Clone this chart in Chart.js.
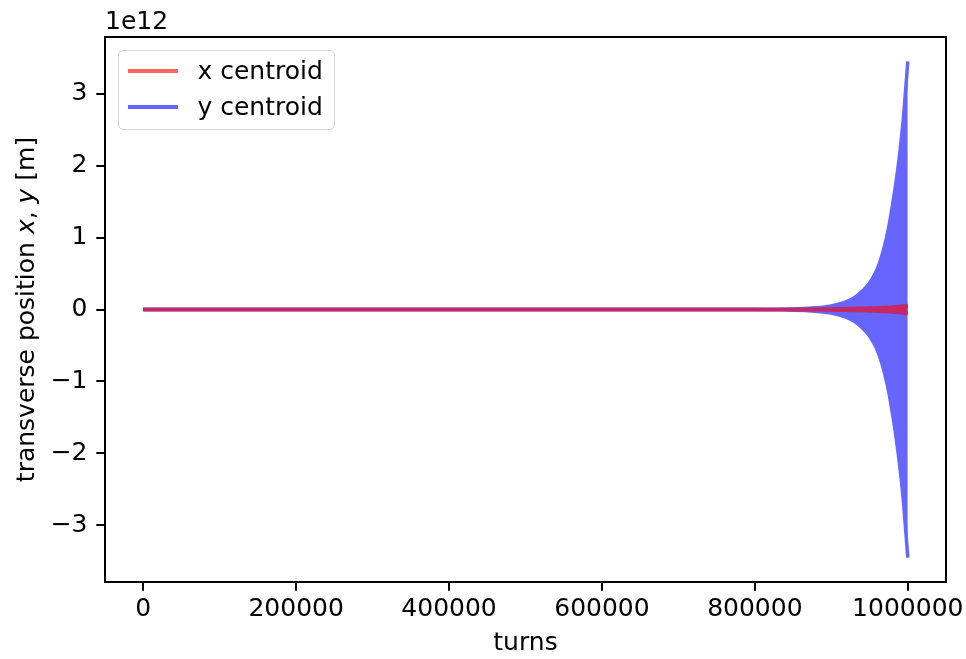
<!DOCTYPE html>
<html>
<head>
<meta charset="utf-8">
<script src="https://cdn.jsdelivr.net/npm/chart.js@4.4.0/dist/chart.umd.min.js"></script>
<style>
  html, body { margin: 0; padding: 0; background: #fff; }
  #wrap { position: relative; width: 966px; height: 659px; }
  canvas { display: block; }
  .lg-box { position: absolute; box-sizing: border-box; border: 1.5px solid #d6d6d6; border-radius: 5px; background: rgba(255,255,255,0.8); }
  .lg-handle { position: absolute; height: 3.5px; }
  .lg-text { position: absolute; font-family: "DejaVu Sans"; font-size: 25px; line-height: 25px; color: #000; white-space: nowrap; }
</style>
</head>
<body>
<div id="wrap">
  <canvas id="c" width="966" height="659"></canvas>
</div>
<script>
// ---- data ----
const turns = [0, 200000, 400000, 600000, 800000, 840000, 870000, 900000, 920000, 930000, 940000, 945000, 950000, 955000, 960000, 965000, 970000, 975000, 980000, 985000, 990000, 995000, 1000000];
// envelope of the x centroid oscillation (m)
const xCentroidUpper = [0, 0, 0, 0, 0, 0.002e12, 0.004e12, 0.008e12, 0.012e12, 0.014e12, 0.017e12, 0.0185e12, 0.020e12, 0.022e12, 0.024e12, 0.0265e12, 0.029e12, 0.032e12, 0.035e12, 0.039e12, 0.044e12, 0.050e12, 0.057e12];
const xCentroidLower = [0, 0, 0, 0, 0, -0.002e12, -0.004e12, -0.008e12, -0.012e12, -0.014e12, -0.017e12, -0.0185e12, -0.020e12, -0.022e12, -0.024e12, -0.0265e12, -0.029e12, -0.032e12, -0.035e12, -0.039e12, -0.044e12, -0.050e12, -0.057e12];
// envelope of the y centroid oscillation (m)
const yCentroidUpper = [0, 0, 0, 0, 0, 0.005e12, 0.017e12, 0.05e12, 0.11e12, 0.165e12, 0.25e12, 0.305e12, 0.37e12, 0.455e12, 0.56e12, 0.71e12, 0.90e12, 1.14e12, 1.45e12, 1.80e12, 2.22e12, 2.75e12, 3.45e12];
const yCentroidLower = [0, 0, 0, 0, 0, -0.005e12, -0.017e12, -0.05e12, -0.11e12, -0.165e12, -0.25e12, -0.305e12, -0.37e12, -0.455e12, -0.56e12, -0.71e12, -0.90e12, -1.14e12, -1.45e12, -1.80e12, -2.22e12, -2.75e12, -3.45e12];
const xTicks = [0, 200000, 400000, 600000, 800000, 1000000];
const yTicks = [-3e12, -2e12, -1e12, 0, 1e12, 2e12, 3e12];
const seriesLabels = ['x centroid', 'y centroid'];
const legendColors = ['rgba(255,0,0,0.6)', 'rgba(0,0,255,0.6)'];

// ---- styling ----
const FONT = '"DejaVu Sans", sans-serif';
const RED_ON_BLUE = 'rgb(194,41,102)';   // red (alpha .6) as seen over the blue band
const BLUE = 'rgb(102,102,255)';         // blue (alpha .6) over white
const LW = 3.5;

const pts = (ys) => turns.map((t, i) => ({ x: t, y: ys[i] }));

const common = { pointRadius: 0, borderWidth: LW, tension: 0, cubicInterpolationMode: 'monotone', borderCapStyle: 'butt', borderJoinStyle: 'round' };

const datasets = [
  Object.assign({ label: seriesLabels[0] + ' upper', data: pts(xCentroidUpper), borderColor: RED_ON_BLUE, backgroundColor: RED_ON_BLUE, fill: false }, common),
  Object.assign({ label: seriesLabels[0], data: pts(xCentroidLower), borderColor: RED_ON_BLUE, backgroundColor: RED_ON_BLUE, fill: '-1' }, common),
  Object.assign({ label: seriesLabels[1] + ' upper', data: pts(yCentroidUpper), borderColor: BLUE, backgroundColor: BLUE, fill: false }, common),
  Object.assign({ label: seriesLabels[1], data: pts(yCentroidLower), borderColor: BLUE, backgroundColor: BLUE, fill: '-1' }, common)
];

const extras = {
  id: 'extras',
  afterDatasetsDraw(chart) {
    const { ctx, chartArea: a } = chart;
    ctx.save();
    ctx.strokeStyle = '#000';
    ctx.lineWidth = 2;
    ctx.strokeRect(a.left, a.top, a.right - a.left, a.bottom - a.top);
    ctx.restore();
  },
  afterDraw(chart) {
    const { ctx, chartArea: a } = chart;
    ctx.save();
    ctx.fillStyle = '#000';
    ctx.font = '25px ' + FONT;
    ctx.textAlign = 'left';
    ctx.textBaseline = 'alphabetic';
    ctx.fillText('1e12', a.left, 29);
    // y axis title with italic x, y
    const parts = [
      ['transverse position ', false], ['x', true], [', ', false], ['y', true], [' [m]', false]
    ];
    const fN = '25px ' + FONT, fI = 'oblique 25px ' + FONT;
    let total = 0;
    parts.forEach(p => { ctx.font = p[1] ? fI : fN; total += ctx.measureText(p[0]).width; });
    ctx.translate(34, (a.top + a.bottom) / 2);
    ctx.rotate(-Math.PI / 2);
    let x = -total / 2;
    parts.forEach(p => { ctx.font = p[1] ? fI : fN; ctx.fillText(p[0], x, 0); x += ctx.measureText(p[0]).width; });
    ctx.restore();
  }
};

const tickGrid = { display: true, drawOnChartArea: false, drawTicks: true, tickLength: 8.75, color: '#000', lineWidth: 2 };

const chart = new Chart(document.getElementById('c'), {
  type: 'line',
  data: { datasets },
  options: {
    responsive: false,
    animation: false,
    devicePixelRatio: 1,
    layout: { padding: { left: 0, top: 37, right: 20, bottom: 0 } },
    plugins: { legend: { display: false }, tooltip: { enabled: false } },
    scales: {
      x: {
        type: 'linear', min: -50000, max: 1050000,
        afterBuildTicks: (s) => { s.ticks = xTicks.map(v => ({ value: v })); },
        afterFit: (s) => { s.height = 77; s.paddingLeft = 0; s.paddingRight = 0; },
        grid: tickGrid, border: { display: false },
        ticks: { autoSkip: false, maxRotation: 0, minRotation: 0, padding: 4, color: '#000', font: { family: FONT, size: 25 }, callback: (v) => String(v) },
        title: { display: true, text: 'turns', color: '#000', font: { family: FONT, size: 25, lineHeight: 1.2 }, padding: { top: 0, bottom: 1 } }
      },
      y: {
        type: 'linear', min: -3.79e12, max: 3.79e12,
        afterBuildTicks: (s) => { s.ticks = yTicks.map(v => ({ value: v })); },
        afterFit: (s) => { s.width = 105; s.paddingTop = 0; s.paddingBottom = 0; },
        grid: tickGrid, border: { display: false },
        ticks: { autoSkip: false, padding: 8.75, color: '#000', font: { family: FONT, size: 25 },
          callback: (v) => { const n = Math.round(v / 1e12); return n < 0 ? '\u2212' + Math.abs(n) : String(n); } }
      }
    }
  },
  plugins: [extras]
});

// ---- legend (HTML) ----
(function buildLegend() {
  const wrap = document.getElementById('wrap');
  const box = document.createElement('div');
  box.className = 'lg-box';
  Object.assign(box.style, { left: '117.5px', top: '49.5px', width: '217px', height: '80px' });
  wrap.appendChild(box);
  const centers = [71, 107];
  seriesLabels.forEach((lab, i) => {
    const h = document.createElement('div');
    h.className = 'lg-handle';
    Object.assign(h.style, { left: '127.5px', width: '50px', top: (centers[i] - 1.75) + 'px', background: legendColors[i] });
    wrap.appendChild(h);
    const t = document.createElement('div');
    t.className = 'lg-text';
    t.textContent = lab;
    Object.assign(t.style, { left: '197.5px', top: (centers[i] + 8.5 - 21.15) + 'px' });
    wrap.appendChild(t);
  });
})();
</script>
</body>
</html>
